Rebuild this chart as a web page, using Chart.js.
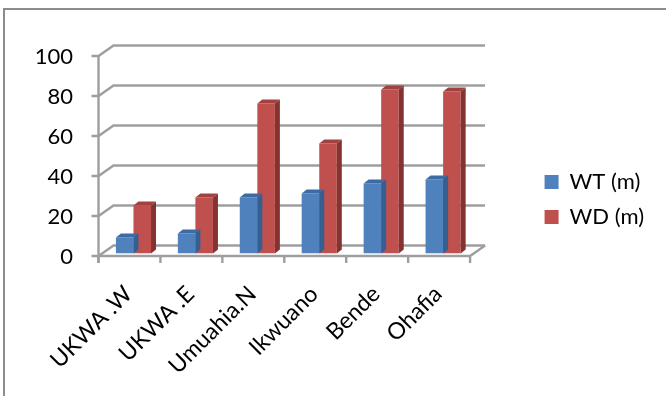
<!DOCTYPE html>
<html>
<head>
<meta charset="utf-8">
<script src="https://cdn.jsdelivr.net/npm/chart.js@4/dist/chart.umd.min.js"></script>
<style>
  html, body { margin: 0; padding: 0; background: #ffffff; }
  canvas { display: block; }
</style>
</head>
<body>
<canvas id="chart" width="666" height="396"></canvas>
<script>
// Districts and measured depths (metres)
const districts = ['UKWA .W', 'UKWA .E', 'Umuahia.N', 'Ikwuano', 'Bende', 'Ohafia'];
const wtValues = [8, 10, 28, 30, 35, 37];
const wdValues = [24, 28, 75, 55, 82, 81];
const seriesNames = ['WT (m)', 'WD (m)'];
const yTickValues = [0, 20, 40, 60, 80, 100];

// Pseudo-3D geometry: offsets of the front and back planes relative to the bar plane
const FRONT = { dx: -4, dy: 2.5 };
const BACK = { dx: 11, dy: -8 };
const BAR_DEPTH = { dx: 5, dy: -4 };

const FACE_COLORS = [
  { front: '#4F81BD', top: '#3D6BA3', side: '#365F91' },
  { front: '#C0504D', top: '#A3413E', side: '#853331' }
];
const GRID_COLOR = '#9e9e9e';
const FONT = 'Lato, "Liberation Sans", sans-serif';

// Walls, floor, axis line and tick marks of the 3D frame
const frame3d = {
  id: 'frame3d',
  beforeDraw(chart) {
    const ctx = chart.ctx;
    ctx.save();
    ctx.strokeStyle = '#8c8c8c';
    ctx.lineWidth = 2;
    ctx.strokeRect(4, 9, 720, 420);
    ctx.restore();
  },
  beforeDatasetsDraw(chart) {
    const ctx = chart.ctx;
    const xs = chart.scales.x;
    const ys = chart.scales.y;
    const L = chart.chartArea.left;
    const R = chart.chartArea.right;
    const y0 = ys.getPixelForValue(0);
    ctx.save();
    ctx.strokeStyle = GRID_COLOR;
    ctx.lineWidth = 2.4;
    ctx.lineJoin = 'miter';
    // back wall gridlines with side-wall diagonals and front tick marks
    yTickValues.forEach(v => {
      const p = ys.getPixelForValue(v);
      ctx.beginPath();
      ctx.moveTo(L + FRONT.dx - 7, p + FRONT.dy);
      ctx.lineTo(L + FRONT.dx, p + FRONT.dy);
      ctx.lineTo(L + BACK.dx, p + BACK.dy);
      ctx.lineTo(R + BACK.dx, p + BACK.dy);
      ctx.stroke();
    });
    // floor front and right edges
    ctx.beginPath();
    ctx.moveTo(L + FRONT.dx, y0 + FRONT.dy);
    ctx.lineTo(R + FRONT.dx, y0 + FRONT.dy);
    ctx.lineTo(R + BACK.dx, y0 + BACK.dy);
    ctx.stroke();
    // front vertical axis
    ctx.beginPath();
    ctx.moveTo(L + FRONT.dx, ys.getPixelForValue(100) + FRONT.dy);
    ctx.lineTo(L + FRONT.dx, y0 + FRONT.dy + 7);
    ctx.stroke();
    // category boundary tick marks below the floor
    const n = districts.length;
    for (let i = 0; i <= n; i++) {
      const px = xs.getPixelForDecimal(i / n) + FRONT.dx;
      ctx.beginPath();
      ctx.moveTo(px, y0 + FRONT.dy + 1);
      ctx.lineTo(px, y0 + FRONT.dy + 7);
      ctx.stroke();
    }
    ctx.restore();
  },
  // top and side faces of each bar, drawn right after its own series
  afterDatasetDraw(chart, args) {
    const ctx = chart.ctx;
    const colors = FACE_COLORS[args.index];
    ctx.save();
    args.meta.data.forEach(bar => {
      const { x, y, base, width } = bar.getProps(['x', 'y', 'base', 'width'], true);
      const l = x - width / 2;
      const r = x + width / 2;
      ctx.fillStyle = colors.top;
      ctx.beginPath();
      ctx.moveTo(l, y);
      ctx.lineTo(r, y);
      ctx.lineTo(r + BAR_DEPTH.dx, y + BAR_DEPTH.dy);
      ctx.lineTo(l + BAR_DEPTH.dx, y + BAR_DEPTH.dy);
      ctx.closePath();
      ctx.fill();
      ctx.fillStyle = colors.side;
      ctx.beginPath();
      ctx.moveTo(r, y);
      ctx.lineTo(r + BAR_DEPTH.dx, y + BAR_DEPTH.dy);
      ctx.lineTo(r + BAR_DEPTH.dx, base + BAR_DEPTH.dy);
      ctx.lineTo(r, base);
      ctx.closePath();
      ctx.fill();
    });
    ctx.restore();
  }
};

// Invisible axes that only reserve space around the plot
const spacerAxis = {
  display: false,
  grid: { display: false, drawTicks: false },
  border: { display: false },
  ticks: { display: false },
  title: { display: false }
};

new Chart(document.getElementById('chart'), {
  type: 'bar',
  data: {
    labels: districts,
    datasets: [
      { label: seriesNames[0], data: wtValues, backgroundColor: FACE_COLORS[0].front, borderWidth: 0 },
      { label: seriesNames[1], data: wdValues, backgroundColor: FACE_COLORS[1].front, borderWidth: 0 }
    ]
  },
  options: {
    responsive: false,
    animation: false,
    layout: { padding: { top: 3, right: 12, bottom: 0, left: 0 } },
    datasets: { bar: { categoryPercentage: 0.567, barPercentage: 1.0 } },
    plugins: {
      tooltip: { enabled: false },
      legend: {
        position: 'right',
        labels: {
          color: '#000000',
          font: { family: FONT, size: 22 },
          boxWidth: 14,
          boxHeight: 14,
          padding: 13
        }
      }
    },
    scales: {
      x: {
        type: 'category',
        position: 'bottom',
        grid: { display: false, drawTicks: false },
        border: { display: false },
        ticks: {
          color: '#000000',
          font: { family: FONT, size: 23 },
          minRotation: 45,
          maxRotation: 45,
          autoSkip: false,
          padding: 27,
          labelOffset: -5
        },
        afterFit(s) { s.height = 142.5; }
      },
      y: {
        type: 'linear',
        position: 'left',
        min: 0,
        max: 100,
        grid: { display: false, drawTicks: false },
        border: { display: false },
        ticks: {
          color: '#000000',
          font: { family: FONT, size: 22 },
          stepSize: 20,
          padding: 29.5,
          labelOffset: 3
        },
        afterFit(s) { s.width = 102.5; }
      },
      spacerTop: Object.assign({ type: 'category', position: 'top', afterFit(s) { s.height = 50.5; } }, spacerAxis),
      spacerRight: Object.assign({ type: 'linear', position: 'right', afterFit(s) { s.width = 57.5; } }, spacerAxis)
    }
  },
  plugins: [frame3d]
});
</script>
</body>
</html>
